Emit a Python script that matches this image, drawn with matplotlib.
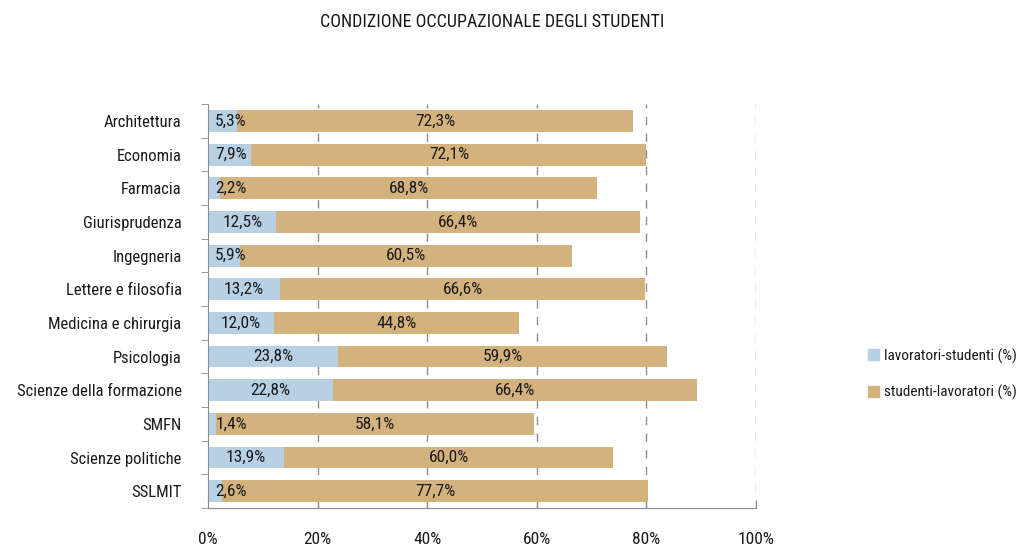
import matplotlib
matplotlib.use("Agg")
from matplotlib import pyplot as plt
from matplotlib.patches import Patch
import numpy as np

facolta = ["Architettura", "Economia", "Farmacia", "Giurisprudenza", "Ingegneria",
           "Lettere e filosofia", "Medicina e chirurgia", "Psicologia",
           "Scienze della formazione", "SMFN", "Scienze politiche", "SSLMIT"]
lavoratori_studenti = [5.3, 7.9, 2.2, 12.5, 5.9, 13.2, 12.0, 23.8, 22.8, 1.4, 13.9, 2.6]
studenti_lavoratori = [72.3, 72.1, 68.8, 66.4, 60.5, 66.6, 44.8, 59.9, 66.4, 58.1, 60.0, 77.7]
serie = ["lavoratori-studenti (%)", "studenti-lavoratori (%)"]
x_ticks = [0, 20, 40, 60, 80, 100]

# condensed look, with fallbacks
plt.rcParams["font.family"] = ["Roboto Condensed", "Archivo Narrow", "Asap Condensed",
                               "Liberation Sans Narrow", "DejaVu Sans"]

BLUE = "#b8d0e4"
TAN = "#d3b27e"
GRID = "#8c8c8c"
TXT = "#1a1a1a"

fig = plt.figure(figsize=(10.17, 5.48), dpi=100)
ax = fig.add_axes([0.2045, 0.073, 0.5389, 0.737])

y = np.arange(len(facolta))
a = np.array(lavoratori_studenti)
b = np.array(studenti_lavoratori)
ax.barh(y, a, height=0.65, color=BLUE, zorder=2)
ax.barh(y, b, left=a, height=0.65, color=TAN, zorder=2)

fs = 12.5
for yi, va, vb in zip(y, a, b):
    # blue label: centred, but never past the bar start
    xa = max(va / 2, 4.2)
    ax.text(xa, yi, f"{va:.1f}%".replace(".", ","), ha="center", va="center",
            fontsize=fs, color=TXT, zorder=3)
    ax.text(va + vb / 2, yi, f"{vb:.1f}%".replace(".", ","), ha="center", va="center",
            fontsize=fs, color=TXT, zorder=3)

ax.set_xlim(0, 100)
ax.set_ylim(len(facolta) - 0.5, -0.5)
ax.set_xticks(x_ticks)
ax.set_xticklabels([f"{t}%" for t in x_ticks], fontsize=12.5, color=TXT)
ax.set_yticks(y)
ax.set_yticklabels(facolta, fontsize=12, color=TXT)
ax.set_yticks(np.arange(-0.5, len(facolta)), minor=True)
ax.tick_params(axis="y", which="major", length=0, pad=19)
ax.tick_params(axis="y", which="minor", length=5, color=GRID, direction="out")
ax.tick_params(axis="x", length=6, color=GRID, direction="in", pad=17)

for t in x_ticks[1:]:
    ax.axvline(t, color=GRID, lw=1, ls=(0, (6, 6)), zorder=1)

for s in ["top", "right"]:
    ax.spines[s].set_visible(False)
ax.spines["left"].set_color(GRID)
ax.spines["bottom"].set_color(GRID)

fig.text(0.484, 0.96, "CONDIZIONE OCCUPAZIONALE DEGLI STUDENTI", ha="center", va="center",
         fontsize=13, color=TXT)

handles = [Patch(color=BLUE), Patch(color=TAN)]
fig.legend(handles, serie, loc="center left", bbox_to_anchor=(0.853, 0.317),
           frameon=False, fontsize=11, handlelength=0.75, handleheight=0.75,
           handletextpad=0.3, labelspacing=1.4, labelcolor=TXT,
           borderpad=0, borderaxespad=0)

fig.savefig("out.png", dpi=100)
